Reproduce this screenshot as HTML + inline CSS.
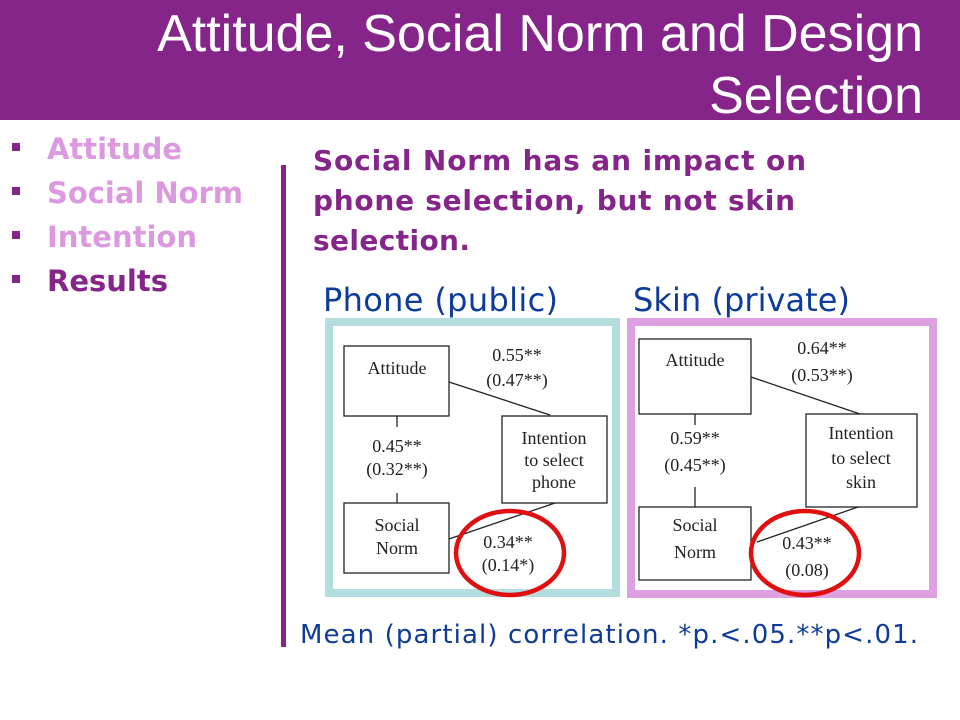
<!DOCTYPE html>
<html><head><meta charset="utf-8"><style>
html,body{margin:0;padding:0;background:#fff;}
svg{display:block;}
.serif{font-family:"Liberation Serif","DejaVu Serif",serif;font-size:18px;fill:#222;}
.bul{font-family:"DejaVu Sans","Liberation Sans",sans-serif;font-weight:bold;font-size:29px;}
</style></head><body>
<svg width="960" height="720" viewBox="0 0 960 720" xmlns="http://www.w3.org/2000/svg">
<rect x="0" y="0" width="960" height="120" fill="#862589"/>
<text x="923" y="51" text-anchor="end" font-family="Liberation Sans, sans-serif" font-size="52" fill="#fff">Attitude, Social Norm and Design</text>
<text x="923" y="113" text-anchor="end" font-family="Liberation Sans, sans-serif" font-size="52" fill="#fff">Selection</text>

<g>
<rect x="12" y="143" width="8" height="8" fill="#862589"/>
<text class="bul" x="47" y="159" textLength="135" fill="#dd99e0">Attitude</text>
<rect x="12" y="187" width="8" height="8" fill="#862589"/>
<text class="bul" x="47" y="203" textLength="196" fill="#dd99e0">Social Norm</text>
<rect x="12" y="231" width="8" height="8" fill="#862589"/>
<text class="bul" x="47" y="247" fill="#dd99e0">Intention</text>
<rect x="12" y="275" width="8" height="8" fill="#862589"/>
<text class="bul" x="47" y="291" fill="#862589">Results</text>
</g>
<rect x="281" y="165" width="5" height="482" fill="#862589"/>

<g font-family="DejaVu Sans, sans-serif" font-weight="bold" font-size="28" fill="#862589">
<text x="313" y="170" textLength="493">Social Norm has an impact on</text>
<text x="313" y="210" textLength="482">phone selection, but not skin</text>
<text x="313" y="250" textLength="157">selection.</text>
</g>

<text x="323" y="311" textLength="235" font-family="DejaVu Sans, sans-serif" font-size="32" fill="#0d3b99">Phone (public)</text>
<text x="633" y="311" textLength="217" font-family="DejaVu Sans, sans-serif" font-size="32" fill="#0d3b99">Skin (private)</text>

<g>
<rect x="329" y="322" width="287" height="271" fill="#fff" stroke="#b4dde0" stroke-width="8"/>
<g fill="#fff" stroke="#222" stroke-width="1.3">
<rect x="344" y="346" width="105" height="70"/>
<rect x="502" y="416" width="105" height="87"/>
<rect x="344" y="503" width="105" height="70"/>
</g>
<g stroke="#222" stroke-width="1.3">
<line x1="449" y1="382" x2="550" y2="415"/>
<line x1="449" y1="539" x2="555" y2="503"/>
<line x1="397" y1="416" x2="397" y2="427"/>
<line x1="397" y1="493" x2="397" y2="503"/>
</g>
<g class="serif" text-anchor="middle">
<text x="397" y="374">Attitude</text>
<text x="554" y="444">Intention</text>
<text x="554" y="466">to select</text>
<text x="554" y="488">phone</text>
<text x="397" y="531">Social</text>
<text x="397" y="554">Norm</text>
<text x="517" y="361">0.55**</text>
<text x="517" y="386">(0.47**)</text>
<text x="397" y="452">0.45**</text>
<text x="397" y="475">(0.32**)</text>
<text x="508" y="548">0.34**</text>
<text x="508" y="571">(0.14*)</text>
</g>
<ellipse cx="510" cy="553" rx="54" ry="42" fill="none" stroke="#e01010" stroke-width="4.5"/>
</g>

<g>
<rect x="631" y="322" width="302" height="272" fill="#fff" stroke="#dda0e0" stroke-width="8"/>
<g fill="#fff" stroke="#222" stroke-width="1.3">
<rect x="639" y="339" width="112" height="75"/>
<rect x="806" y="414" width="111" height="93"/>
<rect x="639" y="507" width="112" height="73"/>
</g>
<g stroke="#222" stroke-width="1.3">
<line x1="751" y1="377" x2="860" y2="414"/>
<line x1="757" y1="542" x2="858" y2="507"/>
<line x1="695" y1="414" x2="695" y2="425"/>
<line x1="695" y1="487" x2="695" y2="507"/>
</g>
<g class="serif" text-anchor="middle">
<text x="695" y="366">Attitude</text>
<text x="861" y="439">Intention</text>
<text x="861" y="464">to select</text>
<text x="861" y="488">skin</text>
<text x="695" y="531">Social</text>
<text x="695" y="558">Norm</text>
<text x="822" y="354">0.64**</text>
<text x="822" y="381">(0.53**)</text>
<text x="695" y="444">0.59**</text>
<text x="695" y="471">(0.45**)</text>
<text x="807" y="549">0.43**</text>
<text x="807" y="576">(0.08)</text>
</g>
<ellipse cx="805" cy="553" rx="54" ry="42" fill="none" stroke="#e01010" stroke-width="4.5"/>
</g>

<text x="300" y="643" textLength="618" font-family="DejaVu Sans, sans-serif" font-size="26" fill="#0d3b99">Mean (partial) correlation. *p.&lt;.05.**p&lt;.01.</text>
</svg>
</body></html>
